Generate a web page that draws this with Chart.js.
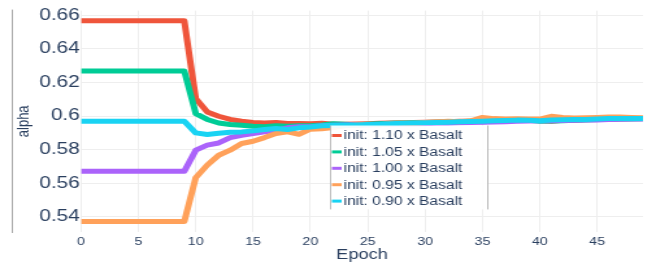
<!DOCTYPE html>
<html>
<head>
<meta charset="utf-8">
<script src="https://cdn.jsdelivr.net/npm/chart.js@4/dist/chart.umd.min.js"></script>
<style>
html, body { margin: 0; padding: 0; background: #fff; }
</style>
</head>
<body>
<!-- drawn narrower and stretched by css, like the reference -->
<canvas id="alphaChart" width="505" height="262" style="width:656px;height:262px;display:block"></canvas>
<script>
const epochs = [0,1,2,3,4,5,6,7,8,9,10,11,12,13,14,15,16,17,18,19,20,21,22,23,24,
                25,26,27,28,29,30,31,32,33,34,35,36,37,38,39,40,41,42,43,44,45,46,47,48,49];

const alpha110 = [0.6567,0.6567,0.6567,0.6567,0.6567,0.6567,0.6567,0.6567,0.6567,0.6567,
                  0.6104,0.6025,0.5999,0.5980,0.5969,0.5962,0.5959,0.5962,0.5956,0.5956,
                  0.5955,0.5957,0.5952,0.5951,0.5953,0.5955,0.5957,0.5959,0.5960,0.5962,
                  0.5964,0.5965,0.5967,0.5969,0.5970,0.5975,0.5973,0.5974,0.5976,0.5977,
                  0.5973,0.5969,0.5975,0.5977,0.5979,0.5980,0.5982,0.5984,0.5985,0.5985];
const alpha105 = [0.6269,0.6269,0.6269,0.6269,0.6269,0.6269,0.6269,0.6269,0.6269,0.6269,
                  0.6015,0.5980,0.5959,0.5950,0.5945,0.5939,0.5937,0.5943,0.5939,0.5943,
                  0.5943,0.5947,0.5954,0.5951,0.5949,0.5952,0.5954,0.5957,0.5959,0.5960,
                  0.5962,0.5964,0.5965,0.5967,0.5969,0.5967,0.5970,0.5972,0.5974,0.5975,
                  0.5969,0.5971,0.5973,0.5975,0.5977,0.5979,0.5980,0.5982,0.5983,0.5984];
const alpha100 = [0.5672,0.5672,0.5672,0.5672,0.5672,0.5672,0.5672,0.5672,0.5672,0.5672,
                  0.5797,0.5827,0.5840,0.5872,0.5886,0.5896,0.5906,0.5916,0.5930,0.5936,
                  0.5937,0.5942,0.5945,0.5947,0.5949,0.5947,0.5950,0.5952,0.5953,0.5951,
                  0.5955,0.5957,0.5958,0.5960,0.5962,0.5964,0.5965,0.5967,0.5969,0.5971,
                  0.5972,0.5973,0.5974,0.5975,0.5976,0.5977,0.5979,0.5981,0.5983,0.5982];
const alpha095 = [0.5373,0.5373,0.5373,0.5373,0.5373,0.5373,0.5373,0.5373,0.5373,0.5373,
                  0.5634,0.5708,0.5767,0.5797,0.5837,0.5850,0.5872,0.5896,0.5906,0.5892,
                  0.5922,0.5925,0.5932,0.5942,0.5947,0.5952,0.5949,0.5955,0.5959,0.5957,
                  0.5962,0.5965,0.5969,0.5967,0.5972,0.5992,0.5985,0.5982,0.5984,0.5983,
                  0.5982,0.5999,0.5992,0.5989,0.5990,0.5992,0.5995,0.5994,0.5992,0.5990];
const alpha090 = [0.5970,0.5970,0.5970,0.5970,0.5970,0.5970,0.5970,0.5970,0.5970,0.5970,
                  0.5900,0.5890,0.5898,0.5904,0.5906,0.5912,0.5920,0.5926,0.5920,0.5930,
                  0.5935,0.5942,0.5944,0.5945,0.5947,0.5950,0.5952,0.5954,0.5957,0.5959,
                  0.5961,0.5962,0.5964,0.5966,0.5968,0.5970,0.5972,0.5974,0.5976,0.5975,
                  0.5972,0.5977,0.5978,0.5979,0.5980,0.5982,0.5985,0.5986,0.5986,0.5985];

const seriesNames = ['init: 1.10 x Basalt', 'init: 1.05 x Basalt', 'init: 1.00 x Basalt',
                     'init: 0.95 x Basalt', 'init: 0.90 x Basalt'];
const seriesColors = ['#EF553B', '#00CC96', '#AB63FA', '#FFA15A', '#19D3F3'];
const xTicks = [0, 5, 10, 15, 20, 25, 30, 35, 40, 45];
const yTicks = [0.54, 0.56, 0.58, 0.6, 0.62, 0.64, 0.66];

const textColor = '#2a3f5f';
const fontFamily = '"Liberation Sans", Arial, sans-serif';

// thin grey line left of the axis title
const leftRule = {
    id: 'leftRule',
    beforeDraw(chart) {
        const { ctx, chartArea, scales } = chart;
        const x = Math.round(scales.y.left + 9) + 0.5;
        ctx.save();
        ctx.strokeStyle = '#aaaaaa';
        ctx.lineWidth = 1;
        ctx.beginPath();
        ctx.moveTo(x, chartArea.top - 1);
        ctx.lineTo(x, chartArea.bottom + 1);
        ctx.stroke();
        ctx.restore();
    }
};

// legend sitting inside the plot area
const insideLegend = {
    id: 'insideLegend',
    afterDatasetsDraw(chart, args, opts) {
        const { ctx, chartArea: a } = chart;
        const left = Math.round(a.left + a.width * opts.x) + 0.5;
        const right = Math.round(a.left + a.width * opts.x2) + 0.5;
        const top = a.top + a.height * opts.y;
        const bottom = a.top + a.height * opts.y2;
        ctx.save();
        ctx.fillStyle = 'rgba(255,255,255,0.92)';
        ctx.fillRect(left, top, right - left, bottom - top);
        ctx.strokeStyle = '#bbbbbb';
        ctx.lineWidth = 1;
        ctx.beginPath();
        ctx.moveTo(left, top); ctx.lineTo(left, bottom);
        ctx.moveTo(right, top); ctx.lineTo(right, bottom);
        ctx.stroke();
        ctx.font = '12px ' + fontFamily;
        ctx.textBaseline = 'middle';
        chart.data.datasets.forEach((ds, i) => {
            const y = top + 10 + i * 16.4;
            ctx.strokeStyle = ds.borderColor;
            ctx.lineWidth = 3;
            ctx.beginPath();
            ctx.moveTo(left + 1, y);
            ctx.lineTo(left + 8.5, y);
            ctx.stroke();
            ctx.fillStyle = textColor;
            ctx.fillText(ds.label, left + 10, y + 0.5);
        });
        ctx.restore();
    }
};

const seriesData = [alpha110, alpha105, alpha100, alpha095, alpha090];

const ctx = document.getElementById('alphaChart').getContext('2d');
new Chart(ctx, {
    type: 'line',
    data: {
        labels: epochs,
        datasets: seriesData.map((values, i) => ({
            label: seriesNames[i],
            data: values,
            borderColor: seriesColors[i],
            backgroundColor: seriesColors[i],
            borderWidth: 5,
            borderJoinStyle: 'round',
            pointRadius: 0,
            tension: 0,
            fill: false,
            order: seriesData.length - i // last trace on top
        }))
    },
    options: {
        responsive: false,
        animation: false,
        devicePixelRatio: 1,
        layout: { padding: { left: 0, right: 10, top: 10, bottom: 0 } },
        scales: {
            x: {
                type: 'linear',
                min: 0,
                max: 49,
                afterBuildTicks: scale => { scale.ticks = xTicks.map(v => ({ value: v })); },
                afterFit: scale => { scale.height = 30; },
                grid: { color: '#eeeeee', drawTicks: false },
                border: { display: false },
                ticks: {
                    padding: 3,
                    color: textColor,
                    font: { family: fontFamily, size: 11 },
                    maxRotation: 0
                },
                title: {
                    display: true,
                    text: 'Epoch',
                    color: textColor,
                    font: { family: fontFamily, size: 14, lineHeight: 1 },
                    padding: { top: 0, bottom: 0 }
                }
            },
            y: {
                min: 0.531,
                max: 0.6628,
                afterBuildTicks: scale => { scale.ticks = yTicks.map(v => ({ value: v })); },
                afterFit: scale => { scale.width = 62.4; },
                grid: { color: '#eeeeee', drawTicks: false },
                border: { display: false },
                ticks: {
                    padding: 1,
                    color: textColor,
                    font: { family: fontFamily, size: 16 },
                    callback: v => String(v)
                },
                title: {
                    display: true,
                    text: 'alpha',
                    color: textColor,
                    font: { family: fontFamily, size: 13, lineHeight: 1 },
                    padding: { top: 12, bottom: 0 }
                }
            }
        },
        plugins: {
            legend: { display: false },
            tooltip: { enabled: false },
            insideLegend: { x: 0.4425, x2: 0.7235, y: 0.519, y2: 0.898 }
        }
    },
    plugins: [leftRule, insideLegend]
});
</script>
</body>
</html>
